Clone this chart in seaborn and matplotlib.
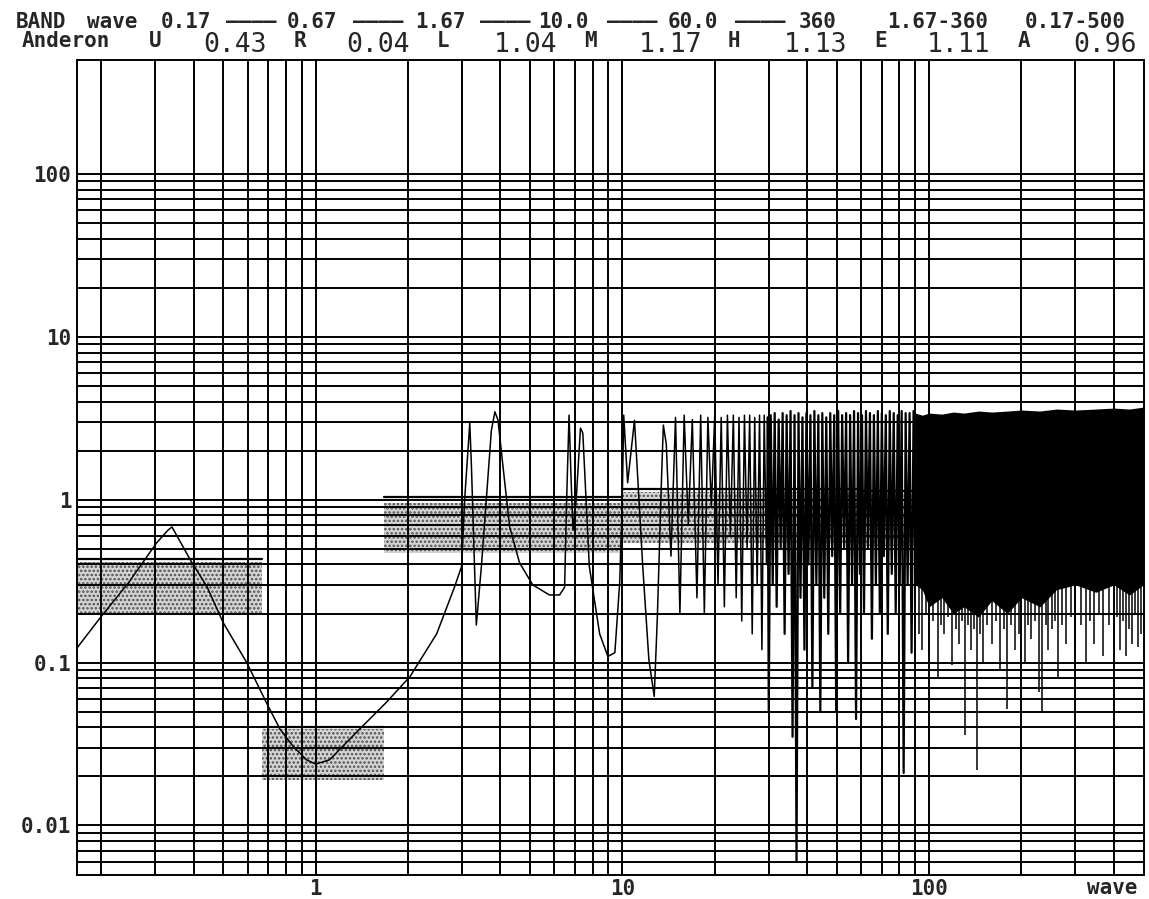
import matplotlib
matplotlib.use("Agg")
import matplotlib.pyplot as plt
import seaborn as sns
from matplotlib.ticker import FixedLocator, NullFormatter

# ---------------- data ----------------
header_edges = ["0.17", "0.67", "1.67", "10.0", "60.0", "360"]
header_aggs = ["1.67-360", "0.17-500"]
band_names = ["U", "R", "L", "M", "H", "E", "A"]
band_values = [0.43, 0.04, 1.04, 1.17, 1.13, 1.11, 0.96]

box_lo = [1 / 6, 0.67, 1.67, 10.0, 60.0]
box_hi = [0.67, 1.67, 10.0, 60.0, 360.0]
box_val = [0.43, 0.04, 1.04, 1.17, 1.13]
box_fill_lo = [0.20, 0.019, 0.47, 0.54, 0.52]
box_fill_hi = [0.415, 0.039, 0.96, 1.12, 1.08]

# smooth / readable part of the curve
curve_x = [0.1667, 0.20, 0.245, 0.303, 0.33, 0.34, 0.395, 0.442, 0.50, 0.596, 0.69, 0.765,
           0.844, 0.934, 1.0, 1.11, 1.39, 1.70, 2.03, 2.48, 2.84, 2.99, 3.06, 3.18, 3.22,
           3.34, 3.47, 3.60, 3.74, 3.84, 3.93, 4.08, 4.29, 4.62, 5.10, 5.78, 6.24, 6.48,
           6.58, 6.70, 6.80, 6.90, 7.07, 7.30, 7.43, 7.80, 8.43, 8.97, 9.45, 9.80, 9.99,
           10.1, 10.4, 10.95, 11.65, 12.2, 12.7, 13.0, 13.4, 13.6, 13.9]
curve_y = [0.123, 0.192, 0.308, 0.543, 0.65, 0.68, 0.41, 0.293, 0.175, 0.10, 0.057, 0.039,
           0.0306, 0.0253, 0.0238, 0.0253, 0.039, 0.057, 0.082, 0.15, 0.293, 0.389, 1.0, 2.95, 1.6,
           0.17, 0.39, 1.0, 2.67, 3.46, 3.08, 1.6, 0.68, 0.41, 0.30, 0.26, 0.26, 0.29,
           1.0, 3.3, 1.38, 0.65, 1.0, 2.75, 2.56, 0.39, 0.15, 0.109, 0.115, 0.31, 1.0,
           3.3, 1.27, 3.07, 0.39, 0.104, 0.062, 0.19, 1.27, 2.87, 2.2]

# oscillation extremes 14-30 (alternating troughs / peaks)
osc1_x = [14.4, 14.9, 15.4, 15.9, 16.4, 16.9, 17.5, 18.0, 18.5, 19.0, 19.5, 20.0, 20.5, 21.0,
          21.5, 22.0, 22.5, 23.0, 23.5, 24.0, 24.5, 25.0, 25.5, 26.0, 26.5, 27.0, 27.5, 28.0,
          28.5, 29.0, 29.5, 29.75]
osc1_y = [0.45, 3.2, 0.2, 3.3, 0.7, 3.1, 0.25, 3.3, 0.2, 3.2, 0.9, 3.3, 0.3, 3.2,
          0.22, 3.3, 0.6, 3.3, 0.25, 3.2, 0.18, 3.3, 0.5, 3.3, 0.15, 3.2, 0.3, 3.3,
          0.12, 3.3, 0.4, 3.2]

# oscillation extremes 30-90 (denser)
osc2_x = [30.0, 30.45, 30.91, 31.37, 31.84, 32.32, 32.81, 33.30, 33.80, 34.31, 34.82, 35.34,
          35.87, 36.41, 36.96, 37.51, 38.07, 38.64, 39.22, 39.81, 40.41, 41.02, 41.63, 42.26,
          42.89, 43.54, 44.19, 44.85, 45.52, 46.21, 46.90, 47.61, 48.32, 49.05, 49.78, 50.53,
          51.29, 52.06, 52.84, 53.63, 54.44, 55.26, 56.08, 56.92, 57.78, 58.65, 59.53, 60.42,
          61.33, 62.25, 63.18, 64.13, 65.09, 66.07, 67.06, 68.06, 69.08, 70.12, 71.17, 72.24,
          73.32, 74.42, 75.54, 76.67, 77.82, 78.99, 80.18, 81.38, 82.60, 83.84, 85.10, 86.37,
          87.67, 88.98, 90.32]
osc2_y = [0.05, 3.3, 0.3, 3.4, 0.22, 3.1, 0.5, 3.4, 0.15, 3.3, 0.35, 3.5,
          0.035, 3.3, 0.006, 3.4, 0.25, 3.2, 0.12, 3.4, 0.4, 3.3, 0.07, 3.5,
          0.3, 3.3, 0.05, 3.4, 0.25, 3.2, 0.15, 3.4, 0.45, 3.3, 0.05, 3.5,
          0.2, 3.3, 0.5, 3.4, 0.1, 3.3, 0.3, 3.5, 0.045, 3.4, 0.35, 3.3,
          0.2, 3.5, 0.5, 3.4, 0.14, 3.3, 0.3, 3.5, 0.2, 3.4, 0.45, 3.3,
          0.15, 3.5, 0.35, 3.4, 0.2, 3.3, 0.3, 3.5, 0.021, 3.4, 0.3, 3.4,
          0.115, 3.5, 0.3]

# fully dense region: envelope of the oscillation
env_x = [90.3, 95, 100, 110, 120, 130, 145, 160, 180, 200, 230, 260, 300, 350, 400, 450, 500]
env_lo = [0.30, 0.28, 0.22, 0.25, 0.20, 0.22, 0.19, 0.24, 0.20, 0.25, 0.22, 0.28, 0.30, 0.27,
          0.30, 0.26, 0.30]
env_hi = [3.4, 3.3, 3.4, 3.35, 3.45, 3.4, 3.5, 3.45, 3.5, 3.55, 3.5, 3.6, 3.55, 3.6,
          3.65, 3.6, 3.7]

# deep spikes inside the dense region
spike_x = [93, 95, 98, 103, 106.6, 109, 112, 115, 118.5, 122, 125, 128, 131.4, 134, 137, 140,
           143.4, 147, 150, 155, 160, 165, 170, 175, 179.8, 185, 190, 197, 205, 210, 215, 222,
           228, 233, 240, 245, 252, 258, 264, 272, 280, 290, 300, 312, 324, 335, 345, 358,
           370, 385, 400, 410, 420, 428, 437, 448, 460, 470, 480, 490]
spike_y = [0.15, 0.12, 0.2, 0.18, 0.081, 0.17, 0.15, 0.19, 0.097, 0.16, 0.13, 0.18, 0.036, 0.17,
           0.12, 0.16, 0.022, 0.15, 0.10, 0.17, 0.13, 0.18, 0.09, 0.16, 0.052, 0.17, 0.12, 0.15,
           0.10, 0.17, 0.14, 0.18, 0.066, 0.049, 0.17, 0.12, 0.16, 0.18, 0.082, 0.17, 0.13, 0.19,
           0.12, 0.17, 0.10, 0.18, 0.13, 0.2, 0.11, 0.17, 0.14, 0.19, 0.12, 0.18, 0.11, 0.16,
           0.13, 0.2, 0.125, 0.15]

x_major = [1, 10, 100]
x_major_labels = ["1", "10", "100"]
y_major = [0.01, 0.1, 1, 10, 100]
y_major_labels = ["0.01", "0.1", "1", "10", "100"]

# ---------------- style ----------------
sns.set_style("white")
MONO = "DejaVu Sans Mono"
plt.rcParams["font.family"] = [MONO, "DejaVu Sans"]
plt.rcParams["font.weight"] = "bold"
plt.rcParams["hatch.linewidth"] = 1.2

W, H = 1149, 899
fig = plt.figure(figsize=(W / 100, H / 100), dpi=100)
ax = fig.add_axes([77 / W, 24.5 / H, 1066.5 / W, 814.5 / H])
ax.set_xscale("log")
ax.set_yscale("log")
ax.set_xlim(1 / 6, 500)
ax.set_ylim(0.005, 500)

# band boxes
for x0, x1, v, flo, fhi in zip(box_lo, box_hi, box_val, box_fill_lo, box_fill_hi):
    ax.fill_between([x0, x1], [flo, flo], [fhi, fhi], facecolor="#d4d4d4",
                    edgecolor="#505050", hatch="....", linewidth=0, zorder=0.6)
    ax.plot([x0, x1], [v, v], color="black", lw=1.6, zorder=0.7)

# curve
sns.lineplot(x=curve_x + osc1_x, y=curve_y + osc1_y, ax=ax, color="black", lw=1.1,
             estimator=None, sort=False, zorder=2)
sns.lineplot(x=[osc1_x[-1]] + osc2_x, y=[osc1_y[-1]] + osc2_y, ax=ax, color="black",
             lw=1.6, estimator=None, sort=False, zorder=2)
ax.fill_between(env_x, env_lo, env_hi, color="black", lw=0, zorder=2)
tops = [0.35] * len(spike_x)
ax.vlines(spike_x, spike_y, tops, color="black", lw=1.1, zorder=2)

# grid / ticks
def minor_vals(lo, hi, emin, emax, majors):
    vals = []
    for e in range(emin, emax + 1):
        for k in range(1, 10):
            v = k * 10.0 ** e
            if lo < v <= hi and all(abs(v - m) > 1e-9 for m in majors):
                vals.append(v)
    return vals

ax.xaxis.set_major_locator(FixedLocator(x_major))
ax.set_xticklabels(x_major_labels)
ax.xaxis.set_minor_locator(FixedLocator(minor_vals(1 / 6, 499, -1, 2, x_major)))
ax.xaxis.set_minor_formatter(NullFormatter())
ax.yaxis.set_major_locator(FixedLocator(y_major))
ax.set_yticklabels(y_major_labels)
ax.yaxis.set_minor_locator(FixedLocator(minor_vals(0.0051, 100, -3, 1, y_major)))
ax.yaxis.set_minor_formatter(NullFormatter())
ax.grid(which="both", color="black", lw=1.4)
ax.set_axisbelow(False)
ax.tick_params(which="both", length=0, labelsize=15)
ax.tick_params(axis="y", pad=4)
ax.tick_params(axis="x", pad=3)
for s in ax.spines.values():
    s.set_color("black")
    s.set_linewidth(1.4)

ax.text(0.994, -0.004, "wave", transform=ax.transAxes, ha="right", va="top",
        fontsize=15, fontweight="bold")

# ---------------- header ----------------
def fx(px):
    return px / W

def fy(py):
    return 1 - py / H

DASH = "\u2014" * 4
row1 = [(41, "BAND"), (112, "wave"), (186, header_edges[0]), (251, DASH),
        (312, header_edges[1]), (378, DASH), (440, header_edges[2]), (505, DASH),
        (563, header_edges[3]), (632, DASH), (693, header_edges[4]), (760, DASH),
        (818, header_edges[5]), (938, header_aggs[0]), (1075, header_aggs[1])]
for cx, t in row1:
    fig.text(fx(cx), fy(12), t, ha="center", va="top", fontsize=15, fontweight="bold")

label_cx = [155, 300, 443, 590, 734, 881, 1024]
value_rx = [267, 410, 557, 702, 847, 990, 1137]
fig.text(fx(66), fy(31), "Anderon", ha="center", va="top", fontsize=15, fontweight="bold")
for cx, rx, n, v in zip(label_cx, value_rx, band_names, band_values):
    fig.text(fx(cx), fy(31), n, ha="center", va="top", fontsize=15, fontweight="bold")
    fig.text(fx(rx), fy(32), f"{v:.2f}", ha="right", va="top", fontsize=19,
             fontweight="normal")

fig.savefig("out.png", dpi=100)
